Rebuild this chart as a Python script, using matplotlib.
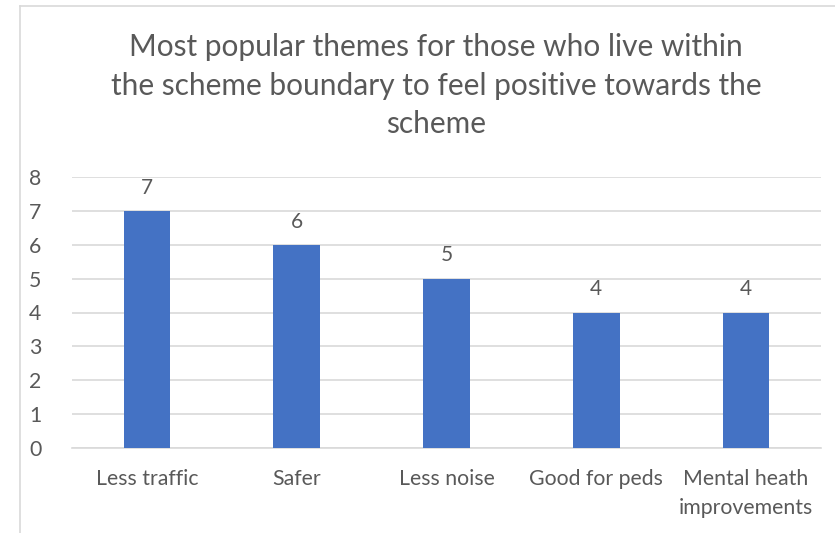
import matplotlib
matplotlib.use("Agg")
import matplotlib.pyplot as plt

categories = ["Less traffic", "Safer", "Less noise", "Good for peds", "Mental heath\nimprovements"]
values = [7, 6, 5, 4, 4]
yticks = [0, 1, 2, 3, 4, 5, 6, 7, 8]
title_lines = ["Most popular themes for those who live within",
               "the scheme boundary to feel positive towards the",
               "scheme"]

plt.rcParams['font.family'] = ['Lato', 'DejaVu Sans']
W, H = 835, 533
fig = plt.figure(figsize=(W/100, H/100), dpi=100)
txt = '#595959'

# chart border (left and top visible)
fig.add_artist(plt.Line2D([20/W, 20/W], [0, 1-6/H], color='#D9D9D9', lw=1.2))
fig.add_artist(plt.Line2D([20/W, 1], [1-6/H, 1-6/H], color='#D9D9D9', lw=1.2))

ax = fig.add_axes([72/W, 1-448/H, (821-72)/W, (448-177)/H])
x = list(range(len(categories)))
ax.bar(x, values, width=0.31, color='#4472C4', zorder=3)
for xi, v in zip(x, values):
    ax.annotate(str(v), (xi, v), xytext=(0, 9.5), textcoords='offset points',
                ha='center', va='bottom', fontsize=15, color=txt)
ax.set_xlim(-0.5, len(categories)-0.5)
ax.set_ylim(0, 8)
ax.set_yticks(yticks)
ax.set_yticklabels([str(t) for t in yticks])
ax.set_xticks(x)
ax.set_xticklabels(categories, linespacing=1.55)
ax.tick_params(axis='both', length=0, labelsize=15.3, colors=txt)
ax.tick_params(axis='y', pad=22)
ax.tick_params(axis='x', pad=15)
ax.grid(axis='y', color='#D9D9D9', lw=1.2, zorder=0)
for s in ['top', 'right', 'left']:
    ax.spines[s].set_visible(False)
ax.spines['bottom'].set_color('#D9D9D9')
ax.spines['bottom'].set_linewidth(1.2)

for line, yb in zip(title_lines, [56, 95, 133]):
    fig.text(436/W, 1-yb/H, line, ha='center', va='baseline', fontsize=21.5, color=txt)

fig.savefig('out.png', dpi=100)
